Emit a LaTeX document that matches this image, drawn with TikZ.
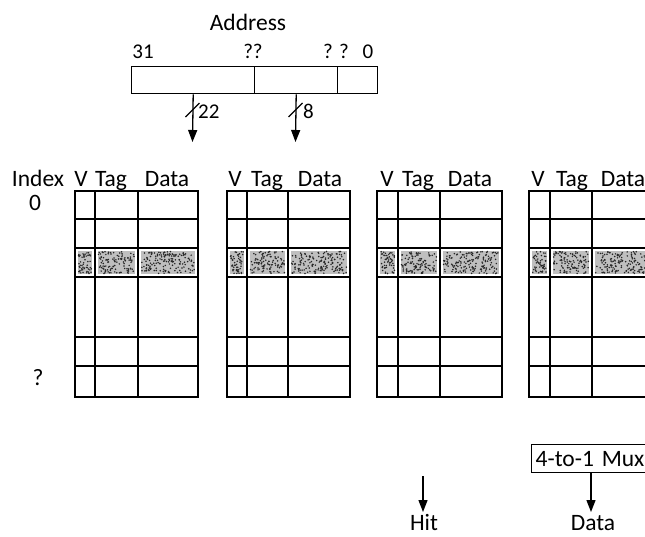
\documentclass[tikz,border=0pt]{standalone}
\usepackage{fontspec}
\setmainfont{Carlito}
\usetikzlibrary{arrows.meta,calc}
\newcommand\speck[2]{%
  \fill[black!25] ({#1+3},251) rectangle ({#2-3},274);
  \pgfmathtruncatemacro\nd{(#2-#1)*2.6}
  \foreach \k in {1,...,\nd}{%
    \pgfmathsetmacro\px{#1+3.5+rnd*(#2-#1-7)}
    \pgfmathsetmacro\py{251.5+rnd*22}
    \fill[black!85] (\px,\py) circle (0.85pt);
  }%
}
\newcommand\cachetable[4]{%
  \speck{#1}{#2}\speck{#2}{#3}\speck{#3}{#4}
  \draw[grid] (#1,191) rectangle (#4,397);
  \draw[grid] (#2,191) -- (#2,397);
  \draw[grid] (#3,191) -- (#3,397);
  \foreach \yy in {219,248,277,337,366}{\draw[grid] (#1,\yy) -- (#4,\yy);}
}
\begin{document}
\begin{tikzpicture}[x=1pt,y=-1pt,
  lbl/.style={font=\fontsize{23.5}{25}\selectfont, inner sep=0pt, anchor=base},
  num/.style={font=\fontsize{21}{23}\selectfont, inner sep=0pt, anchor=base},
  field/.style={draw, line width=1.4pt, minimum height=27pt, inner sep=0pt, anchor=north west},
  grid/.style={line width=1.9pt},
  arr/.style={line width=1.3pt, -{Triangle[length=12pt,width=9pt]}},
  slash/.style={line width=1.3pt}]
\useasboundingbox (0,0) rectangle (645,536);
\clip (0,0) rectangle (645,536);
\pgfmathsetseed{7}

% address
\node[lbl] (addr) at (248,30) {Address};
\node[num] (b31) at (143,58) {31};
\node[num] (bq1) at (253,58) {??};
\node[num] (bq2) at (336,58) {? ?};
\node[num] (b0) at (368,58) {0};
\node[field, minimum width=123pt] (tagf) at (131,66) {};
\node[field, minimum width=83pt] (idxf) at (254,66) {};
\node[field, minimum width=40pt] (offf) at (337,66) {};

\coordinate (e1) at (192.5,142);
\coordinate (e2) at (295.5,142);
\draw[arr] (tagf.south) -- (e1);
\draw[arr] (idxf.south) -- (e2);
\draw[slash] (185.5,117) -- (199.5,103);
\draw[slash] (288.5,117) -- (302.5,103);
\node[num, anchor=base west] (w22) at (198,118) {22};
\node[num, anchor=base west] (w8) at (303,118) {8};

% headers
\node[lbl] (hidx) at (38,186) {Index};
\node[lbl] (h0) at (35,210) {0};
\node[lbl] (hq) at (38,385) {?};
\node[lbl] (h1v) at (81,186) {V};
\node[lbl] (h1t) at (111,186) {Tag};
\node[lbl] (h1d) at (167,186) {Data};
\node[lbl] (h2v) at (235,186) {V};
\node[lbl] (h2t) at (267,186) {Tag};
\node[lbl] (h2d) at (320,186) {Data};
\node[lbl] (h3v) at (387,186) {V};
\node[lbl] (h3t) at (418,186) {Tag};
\node[lbl] (h3d) at (470,186) {Data};
\node[lbl] (h4v) at (538,186) {V};
\node[lbl] (h4t) at (572,186) {Tag};
\node[lbl] (h4d) at (623,186) {Data};

% tables
\cachetable{75}{95}{138}{198}
\cachetable{227}{247}{288}{350}
\cachetable{377}{398}{440}{502}
\cachetable{529}{550}{592}{654}

% mux
\node[draw, line width=1.4pt, anchor=north west, minimum height=28pt, inner xsep=4pt, inner ysep=0pt,
      font=\fontsize{23.5}{25}\selectfont, align=left, text width=130pt] (mux) at (531,444) {4-to-1 Mux};
\coordinate (dtip) at (591,512);
\draw[arr] (mux.south -| dtip) -- (dtip);
\coordinate (hs) at (423,476);
\coordinate (htip) at (423,512);
\draw[arr] (hs) -- (htip);
\node[lbl] (hit) at (424,530) {Hit};
\node[lbl] (dat) at (593,530) {Data};
\end{tikzpicture}
\end{document}
